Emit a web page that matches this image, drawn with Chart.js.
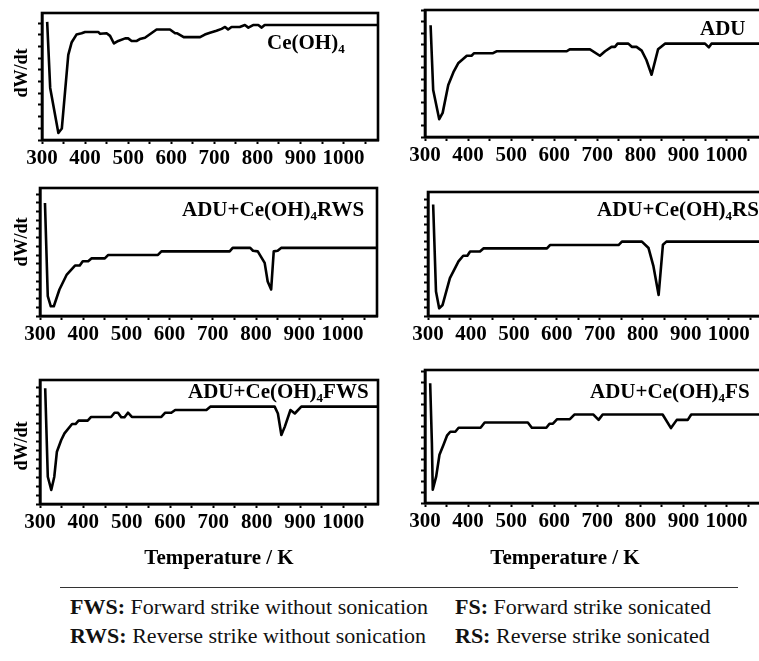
<!DOCTYPE html>
<html>
<head>
<meta charset="utf-8">
<script src="https://cdn.jsdelivr.net/npm/chart.js@4/dist/chart.umd.min.js"></script>
<style>
html,body{margin:0;padding:0;background:#fff;}
#fig{position:relative;width:759px;height:661px;overflow:hidden;background:#fff;}
.lbl{position:absolute;font-family:"Liberation Serif","Times New Roman",serif;font-weight:bold;color:#000;white-space:nowrap;line-height:1;}
.lbl sub{font-size:13px;vertical-align:baseline;position:relative;top:4px;}
.ylab{position:absolute;font-family:"Liberation Serif","Times New Roman",serif;font-weight:bold;font-size:18px;line-height:1;color:#000;white-space:nowrap;transform:translate(-50%,-50%) rotate(-90deg);}
.xlab{position:absolute;font-family:"Liberation Serif","Times New Roman",serif;font-weight:bold;font-size:21px;line-height:1;color:#000;white-space:nowrap;transform:translate(-50%,-50%);}
.leg{position:absolute;font-family:"Liberation Serif","Times New Roman",serif;font-size:22px;line-height:1;color:#111;white-space:nowrap;transform:translateY(-50%);}
.leg b{font-weight:bold;}
#rule{position:absolute;left:60px;top:587px;width:678px;height:0;border-top:1.5px solid #333;}
</style>
</head>
<body>
<div id="fig">
  <div class="lbl" style="left:267px;top:32px;font-size:21px;">Ce(OH)<sub>4</sub></div>
  <div class="lbl" style="left:700px;top:18px;font-size:21px;">ADU</div>
  <div class="lbl" style="left:182px;top:199px;font-size:21px;">ADU+Ce(OH)<sub>4</sub>RWS</div>
  <div class="lbl" style="left:597px;top:199px;font-size:21px;">ADU+Ce(OH)<sub>4</sub>RS</div>
  <div class="lbl" style="left:188px;top:381px;font-size:21px;">ADU+Ce(OH)<sub>4</sub>FWS</div>
  <div class="lbl" style="left:590px;top:381px;font-size:21px;">ADU+Ce(OH)<sub>4</sub>FS</div>

  <div class="ylab" style="left:21px;top:73px;">dW/dt</div>
  <div class="ylab" style="left:21px;top:242px;">dW/dt</div>
  <div class="ylab" style="left:21px;top:446px;">dW/dt</div>

  <div class="xlab" style="left:219px;top:557px;">Temperature / K</div>
  <div class="xlab" style="left:565px;top:557px;">Temperature / K</div>

  <div id="rule"></div>
  <div class="leg" style="left:70px;top:607px;"><b>FWS:</b> Forward strike without sonication</div>
  <div class="leg" style="left:455px;top:607px;"><b>FS:</b> Forward strike sonicated</div>
  <div class="leg" style="left:70px;top:636px;"><b>RWS:</b> Reverse strike without sonication</div>
  <div class="leg" style="left:455px;top:636px;"><b>RS:</b> Reverse strike sonicated</div>
</div>
<script>
// ---- data (temperature in K, dW/dt in arbitrary units 0-100) ----
const tempCe = [312,319,338,346,361,369,380,392,400,431,435,450,458,467,477,493,500,508,520,527,539,566,597,609,614,629,667,678,690,705,717,725,732,740,759,771,779,790,802,810,817,1080];
const dwdtCe = [93,41,5.5,9,67,77,83,84,85,85,83.6,84,82,76,78,80,80,78,78,79.5,80.5,87,87,84,84,81,81,83,84.5,86,87.5,89,87,89,89,90.5,88.5,90.5,90.5,88.5,90.5,90.5];

const tempADU = [313,319,333,341,354,366,377,397,408,414,458,466,629,636,683,706,718,733,741,747,772,780,791,803,814,826,841,857,950,959,965,1080];
const dwdtADU = [88,37,14,19,41,51,58,64,64,66,66,67.5,67.5,69,69,64,67.5,71,71,73.5,73.5,71,71,68,60.6,49,69,73.5,73.5,70.6,73.5,73.5];

const tempRWS = [311.5,318,325,332,345,362,381,392,399,411.5,419,450,458,573,581,739,746,786.5,793,804,820,827,835,841,850,858,1080];
const dwdtRWS = [88.3,15.5,7.6,7.6,20.7,32.4,39.4,39.4,42.8,42.8,45,45,47.7,47.7,50.5,50.5,53.2,53.2,51,50.5,41.5,27,20.7,50.5,51,53.2,53.2];

const tempRS = [312,318.6,326,334,351,371,382,391.6,398,421,429,577,584,743.6,751.5,798,813.5,825,837,847,855,1080];
const dwdtRS = [89.9,19.7,6.2,8.9,30.5,44,48.6,48.6,52,52,54.5,54.5,57.2,57.2,60,60,54.8,40,17,57.5,60,60];

const tempFWS = [312,318,326,333,339,349,356.5,374,382,389,410,418,464,472,480,487.5,495,503,512,580,589,603,612,684,693,841.5,849,857,865,878,888,903,1080];
const dwdtFWS = [93.3,22,11.3,22,42.2,51.6,57,64.5,64.5,67.2,67.2,70.2,70.2,73.6,73.6,70,70,73.6,70.2,70.2,73.6,73.6,75.8,75.8,78.5,78.5,73,55.6,62.4,75.8,73,78.5,78.5];

const tempFS = [312,316,318,326,333.6,343,351,358.7,370.4,378,429,438.5,538.7,548,581.7,589,597,606.8,636.4,646.7,691,703,712.4,851.6,871,884.5,910,918,1080];
const dwdtFS = [90,45,10,20,36.3,43.8,50.6,53.6,53.6,56.6,56.6,60.5,60.5,56.6,56.6,59.6,59.6,63,63,66.5,66.5,62.5,66.5,66.5,56.3,62.5,62.5,66.5,66.5];

const xMin = 300, xMax = 1080;
const xTickLabels = [300,400,500,600,700,800,900,1000];

// ---- layout (chart-area pixel boxes: left, top, right, bottom) ----
const panels = [
  {T: tempCe,  Y: dwdtCe,  area: [42, 13, 378, 140],   yStep: 9.2},
  {T: tempADU, Y: dwdtADU, area: [425, 10, 761, 137],  yStep: 9.06},
  {T: tempRWS, Y: dwdtRWS, area: [40, 188, 377, 316],  yStep: 6.8},
  {T: tempRS,  Y: dwdtRS,  area: [428, 192, 763, 316], yStep: 6.7},
  {T: tempFWS, Y: dwdtFWS, area: [40, 380, 378, 504],  yStep: 7.2},
  {T: tempFS,  Y: dwdtFS,  area: [425, 370, 761, 503], yStep: 8.25}
];

const ML = 26, MT = 6, MR = 6, MB = 42;
const FONT = '"Liberation Serif","Times New Roman",serif';

const frame = {
  id: 'frame',
  afterDatasetsDraw(c) {
    const a = c.chartArea, ctx = c.ctx;
    ctx.save();
    ctx.strokeStyle = '#000';
    ctx.lineWidth = 2.6;
    ctx.strokeRect(a.left, a.top, a.right - a.left, a.bottom - a.top);
    ctx.restore();
  }
};

const fig = document.getElementById('fig');
panels.forEach(p => {
  const [l, t, r, b] = p.area;
  const w = r - l + ML + MR, h = b - t + MT + MB;
  const cv = document.createElement('canvas');
  cv.width = w; cv.height = h;
  cv.style.cssText = `position:absolute;left:${l - ML}px;top:${t - MT}px;width:${w}px;height:${h}px;`;
  fig.insertBefore(cv, fig.firstChild);
  new Chart(cv, {
    type: 'line',
    data: {
      datasets: [{
        data: p.T.map((x, i) => ({x: x, y: p.Y[i]})),
        borderColor: '#000',
        borderWidth: 2.6,
        pointRadius: 0,
        tension: 0,
        fill: false,
        borderJoinStyle: 'round'
      }]
    },
    options: {
      responsive: false,
      animation: false,
      devicePixelRatio: 1,
      layout: {padding: {left: 0, top: MT, right: MR, bottom: 0}},
      plugins: {legend: {display: false}, tooltip: {enabled: false}},
      scales: {
        x: {
          type: 'linear', min: xMin, max: xMax,
          border: {color: '#000', width: 2.6},
          grid: {drawOnChartArea: false, drawTicks: true, tickLength: 4, tickWidth: 2, tickColor: '#000'},
          ticks: {
            stepSize: 50, includeBounds: false, autoSkip: false, maxRotation: 0, minRotation: 0,
            padding: 2, color: '#000',
            font: {family: FONT, size: 21, weight: 'bold'},
            callback: v => xTickLabels.includes(v) ? String(v) : ''
          },
          afterFit(s) { s.height = MB; }
        },
        y: {
          type: 'linear', min: 0, max: 100,
          border: {color: '#000', width: 2.6},
          grid: {drawOnChartArea: false, drawTicks: true, tickLength: 4, tickWidth: 2, tickColor: '#000'},
          ticks: {display: false, stepSize: p.yStep, includeBounds: false},
          afterFit(s) { s.width = ML; }
        }
      }
    },
    plugins: [frame]
  });
});
</script>
</body>
</html>
